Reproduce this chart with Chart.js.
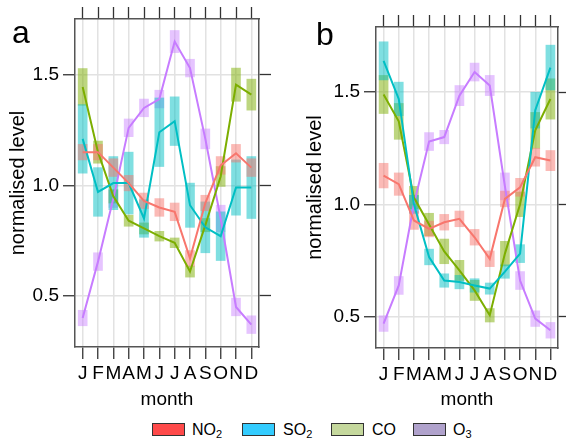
<!DOCTYPE html>
<html>
<head>
<meta charset="utf-8">
<script src="https://cdn.jsdelivr.net/npm/chart.js@4.4.1/dist/chart.umd.min.js"></script>
<style>
  body { margin: 0; background: #fff; font-family: "Liberation Sans", Arial, sans-serif; }
  #wrap { position: relative; width: 566px; height: 442px; overflow: hidden; }
  canvas { position: absolute; top: 0; }
  #ca { left: 0; }
  #cb { left: 283px; }
  .panel { position: absolute; font-size: 32px; line-height: 1; color: #000; }
  .key { position: absolute; top: 423px; width: 31px; height: 11px; border: 1px solid #333; }
  .lab { position: absolute; top: 421px; font-size: 16px; line-height: 18px; color: #000; }
  .lab sub { font-size: 11px; vertical-align: -3px; line-height: 0; }
</style>
</head>
<body>
<div id="wrap">
  <canvas id="ca" width="283" height="420"></canvas>
  <canvas id="cb" width="283" height="420"></canvas>
  <div class="panel" style="left:12px; top:16px;">a</div>
  <div class="panel" style="left:316px; top:18px;">b</div>

  <div class="key" style="left:152px; background:#ff4a4a;"></div>
  <div class="lab" style="left:192px;">NO<sub>2</sub></div>
  <div class="key" style="left:242px; background:#33ccff;"></div>
  <div class="lab" style="left:283px;">SO<sub>2</sub></div>
  <div class="key" style="left:331px; background:#c5d89d;"></div>
  <div class="lab" style="left:372px;">CO</div>
  <div class="key" style="left:413px; background:#b0a2cc;"></div>
  <div class="lab" style="left:453px;">O<sub>3</sub></div>
</div>

<script>
const months = ['J', 'F', 'M', 'A', 'M', 'J', 'J', 'A', 'S', 'O', 'N', 'D'];

// panel a
const aNO2 = [1.15, 1.15, 1.08, 1.01, 0.93, 0.90, 0.88, 0.67, 0.92, 1.09, 1.145, 1.08];
const aSO2 = [1.21, 0.97, 1.01, 1.01, 0.85, 1.24, 1.29, 0.91, 0.81, 0.77, 0.99, 0.99];
const aCO  = [1.445, 1.15, 0.95, 0.84, 0.805, 0.77, 0.74, 0.61, 0.82, 1.04, 1.455, 1.41];
const aO3  = [0.40, 0.655, 0.94, 1.26, 1.35, 1.39, 1.65, 1.53, 1.21, 0.85, 0.45, 0.37];
const aNO2Err = [0.035, 0.035, 0.04, 0.035, 0.035, 0.04, 0.04, 0.035, 0.035, 0.04, 0.04, 0.04];
const aSO2Err = [0.155, 0.11, 0.12, 0.14, 0.085, 0.155, 0.11, 0.10, 0.115, 0.11, 0.125, 0.14];
const aCOErr  = [0.083, 0.05, 0.03, 0.025, 0.025, 0.022, 0.022, 0.025, 0.03, 0.045, 0.075, 0.07];
const aO3Err  = [0.035, 0.04, 0.04, 0.04, 0.04, 0.04, 0.05, 0.04, 0.045, 0.06, 0.04, 0.04];

// panel b
const bNO2 = [1.128, 1.09, 0.928, 0.89, 0.92, 0.935, 0.853, 0.757, 1.024, 1.076, 1.21, 1.195];
const bSO2 = [1.64, 1.47, 1.0, 0.765, 0.66, 0.653, 0.638, 0.624, 0.70, 0.78, 1.42, 1.61];
const bCO  = [1.49, 1.37, 1.03, 0.91, 0.79, 0.705, 0.616, 0.505, 0.78, 1.0, 1.33, 1.47];
const bO3  = [0.468, 0.638, 1.0, 1.28, 1.30, 1.485, 1.59, 1.53, 1.08, 0.66, 0.49, 0.438];
const bNO2Err = [0.055, 0.05, 0.04, 0.035, 0.035, 0.035, 0.035, 0.035, 0.035, 0.04, 0.04, 0.045];
const bSO2Err = [0.085, 0.075, 0.04, 0.035, 0.03, 0.03, 0.03, 0.025, 0.03, 0.04, 0.08, 0.1];
const bCOErr  = [0.085, 0.08, 0.05, 0.05, 0.055, 0.045, 0.045, 0.03, 0.055, 0.055, 0.08, 0.09];
const bO3Err  = [0.035, 0.04, 0.04, 0.04, 0.03, 0.045, 0.04, 0.045, 0.06, 0.04, 0.035, 0.035];

const lineColors = ['#F8766D', '#00BFC4', '#7CAE00', '#C77CFF'];
const boxColors = ['rgba(248,118,109,0.5)', 'rgba(0,191,196,0.5)', 'rgba(124,174,0,0.5)', 'rgba(199,124,255,0.45)'];

const FONT = '"Liberation Sans", Arial, sans-serif';
const gridCol = '#e2e2e2';
const frameCol = '#555';
const tickCol = '#333';

const makePanel = (id, vals, errs, yMin, yMax, frame) => {
    const datasets = [];
    vals.forEach((v, k) => {
        datasets.push({
            type: 'line', data: v, borderColor: lineColors[k], borderWidth: 2,
            pointRadius: 0, fill: false, tension: 0, order: 1
        });
        datasets.push({
            type: 'bar', data: v.map((y, i) => [y - errs[k][i], y + errs[k][i]]),
            backgroundColor: boxColors[k], borderWidth: 0, barThickness: 9,
            grouped: false, order: 2
        });
    });

    const fixW = w => s => { s.width = w; };
    const fixH = h => s => { s.height = h; };

    new Chart(document.getElementById(id), {
        type: 'bar',
        data: { labels: months, datasets },
        options: {
            responsive: false,
            devicePixelRatio: 1,
            animation: false,
            layout: { padding: 0 },
            plugins: { legend: { display: false }, tooltip: { enabled: false } },
            scales: {
                x: {
                    position: 'bottom', offset: true,
                    grid: { offset: false, color: gridCol, lineWidth: 1.5, tickLength: 12, tickColor: tickCol, tickWidth: 1.3 },
                    border: { color: frameCol, width: 1.5 },
                    ticks: { autoSkip: false, maxRotation: 0, padding: 3, color: '#000', font: { family: FONT, size: 19 } },
                    title: { display: true, text: 'month', color: '#000', font: { family: FONT, size: 19 }, padding: { top: 0, bottom: 9 } },
                    afterFit: fixH(frame.bottom)
                },
                x2: {
                    type: 'category', labels: months, position: 'top', offset: true,
                    grid: { offset: false, drawOnChartArea: false, tickLength: 12, tickColor: tickCol, tickWidth: 1.3 },
                    border: { color: frameCol, width: 1.5 },
                    ticks: { display: false },
                    afterFit: fixH(frame.top)
                },
                y: {
                    position: 'left', min: yMin, max: yMax,
                    grid: { color: gridCol, lineWidth: 1.5, tickLength: 12, tickColor: tickCol, tickWidth: 1.3 },
                    border: { color: frameCol, width: 1.5 },
                    ticks: { stepSize: 0.5, includeBounds: false, padding: 4, color: '#000',
                             font: { family: FONT, size: 19 }, callback: v => v.toFixed(1) },
                    title: { display: true, text: 'normalised level', color: '#000', font: { family: FONT, size: 20 }, padding: { top: frame.titlePad, bottom: 0 } },
                    afterFit: fixW(frame.left)
                },
                y2: {
                    type: 'linear', position: 'right', min: yMin, max: yMax,
                    grid: { drawOnChartArea: false, tickLength: 12, tickColor: tickCol, tickWidth: 1.3 },
                    border: { color: frameCol, width: 1.5 },
                    ticks: { display: false, stepSize: 0.5, includeBounds: false },
                    afterFit: fixW(frame.right)
                }
            }
        }
    });
};

makePanel('ca', [aNO2, aSO2, aCO, aO3], [aNO2Err, aSO2Err, aCOErr, aO3Err], 0.269, 1.752,
    { left: 75, right: 24, top: 19, bottom: 73, titlePad: 6 });
makePanel('cb', [bNO2, bSO2, bCO, bO3], [bNO2Err, bSO2Err, bCOErr, bO3Err], 0.359, 1.791,
    { left: 93, right: 8, top: 27, bottom: 72, titlePad: 20 });
</script>
</body>
</html>
